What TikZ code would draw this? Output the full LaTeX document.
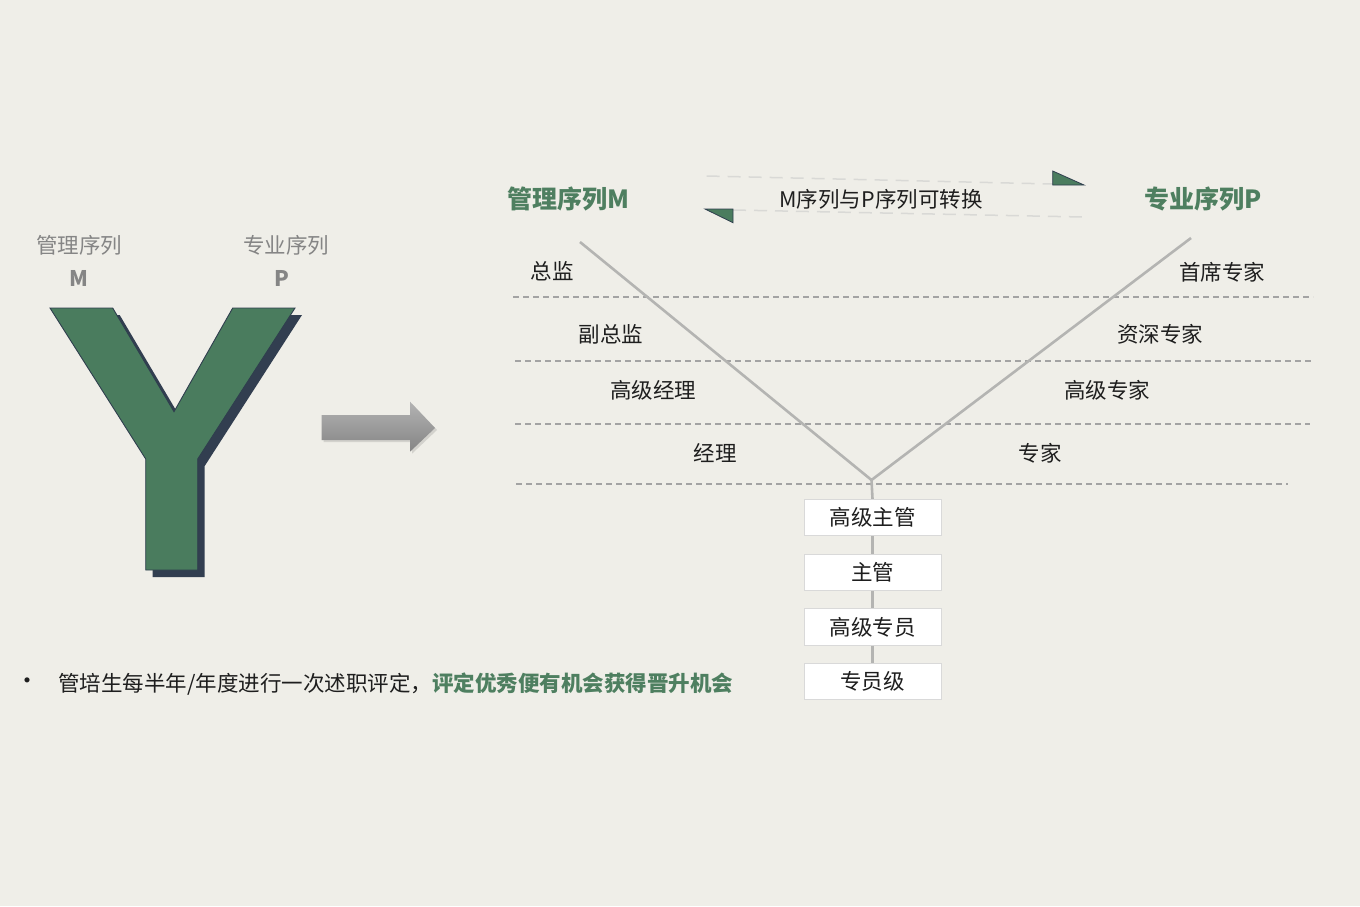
\documentclass[tikz,border=0pt]{standalone}
\usepackage{fontspec}
\newfontfamily\cjk{Noto Sans CJK SC}
\usetikzlibrary{shadows}
\definecolor{bg}{HTML}{EFEEE8}
\definecolor{ygreen}{HTML}{4A7C5E}
\definecolor{tgreen}{HTML}{4E7F60}
\definecolor{yshadow}{HTML}{323E50}
\definecolor{yline}{HTML}{2F3E4E}
\definecolor{lvl}{HTML}{A3A3A3}
\definecolor{conv}{HTML}{D9D9D6}
\definecolor{vline}{HTML}{B4B4B2}
\definecolor{txt}{HTML}{1E1E1E}
\definecolor{greytxt}{HTML}{858585}
\tikzset{
  lab/.style={font=\cjk\fontsize{21.5}{25}\selectfont, text=txt, inner sep=0pt},
  glab/.style={font=\cjk\fontsize{21.5}{25}\selectfont, text=greytxt, inner sep=0pt},
  ttl/.style={font=\cjk\bfseries\fontsize{25}{29}\selectfont, text=tgreen, inner sep=0pt},
  lvldash/.style={draw=lvl, line width=1.2pt, dash pattern=on 6pt off 4pt},
  convdash/.style={draw=conv, line width=1.5pt, dash pattern=on 13pt off 8pt},
  vstroke/.style={draw=vline, line width=2.6pt},
  rankbox/.style={draw=black!15, fill=white, line width=0.8pt, minimum width=137pt, minimum height=36.5pt, inner sep=0pt, font=\cjk\fontsize{21.5}{25}\selectfont, text=txt},
  tri/.style={fill=ygreen, draw=yline, line width=0.8pt}
}
\begin{document}
\begin{tikzpicture}[x=1pt,y=-1pt]
\useasboundingbox (0,0) rectangle (1360,906);
\fill[bg] (0,0) rectangle (1360,906);

% Y shape
\fill[yshadow, shift={(7,7)}] (50,308) -- (112.7,308) -- (174,411.7) -- (232.7,308) -- (295,308) -- (197.7,459) -- (197.7,570) -- (145.7,570) -- (145.7,459) -- cycle;
\filldraw[fill=ygreen, draw=yline, line width=0.9pt] (50,308) -- (112.7,308) -- (174,411.7) -- (232.7,308) -- (295,308) -- (197.7,459) -- (197.7,570) -- (145.7,570) -- (145.7,459) -- cycle;

\node[glab] (ml) at (79,245) {管理序列};
\node[glab, font=\cjk\bfseries\fontsize{21.5}{25}\selectfont] (mm) at (79,278) {M};
\node[glab] (pl) at (286,245) {专业序列};
\node[glab, font=\cjk\bfseries\fontsize{21.5}{25}\selectfont] (pp) at (282,278) {P};

% big arrow
\shade[top color=black!30, bottom color=black!48, drop shadow={shadow xshift=2pt, shadow yshift=-2pt, opacity=0.25}]
  (321.7,415) -- (410,415) -- (410,401.7) -- (435,428) -- (410,451.7) -- (410,440) -- (321.7,440) -- cycle;

% titles
\node[ttl] (tm) at (568,199) {管理序列M};
\node[ttl] (tp) at (1203,199) {专业序列P};

% conversion arrows
\coordinate (c1a) at (706.7,176);
\coordinate (c1b) at (1053,184);
\coordinate (c2a) at (733,210);
\coordinate (c2b) at (1083,217);
\draw[convdash] (c1a) -- (c1b);
\draw[convdash] (c2a) -- (c2b);
\filldraw[tri] (1052.7,171) -- (1052.7,185) -- (1084,185) -- cycle;
\filldraw[tri] (705,209) -- (733,209) -- (733,222.7) -- cycle;
\node[lab] (conv) at (881,199) {M序列与P序列可转换};

% level dashed lines
\coordinate (d1a) at (513,297); \coordinate (d1b) at (1313,297);
\coordinate (d2a) at (515,361); \coordinate (d2b) at (1313,361);
\coordinate (d3a) at (515,424); \coordinate (d3b) at (1310,424);
\coordinate (d4a) at (516,484); \coordinate (d4b) at (1288,484);
\draw[lvldash] (d1a) -- (d1b);
\draw[lvldash] (d2a) -- (d2b);
\draw[lvldash] (d3a) -- (d3b);
\draw[lvldash] (d4a) -- (d4b);

% boxes
\node[rankbox] (b1) at (872.5,517.5) {高级主管};
\node[rankbox] (b2) at (872.5,572.5) {主管};
\node[rankbox] (b3) at (872.5,627) {高级专员};
\node[rankbox] (b4) at (872.5,681.5) {专员级};

% V lines
\coordinate (vl) at (580,242);
\coordinate (vr) at (1191,238);
\coordinate (vb) at (871.5,480);
\draw[vstroke] (vl) -- (vb) -- (vr);
\draw[vstroke] (vb) -- (b1.north);
\draw[vstroke] (b1.south) -- (b2.north);
\draw[vstroke] (b2.south) -- (b3.north);
\draw[vstroke] (b3.south) -- (b4.north);

% level labels
\node[lab] (l1) at (552,271) {总监};
\node[lab] (l2) at (611,334) {副总监};
\node[lab] (l3) at (653,390) {高级经理};
\node[lab] (l4) at (715,453) {经理};
\node[lab] (r1) at (1222,272) {首席专家};
\node[lab] (r2) at (1160,334) {资深专家};
\node[lab] (r3) at (1107,390) {高级专家};
\node[lab] (r4) at (1040,453) {专家};

% bottom note
\node[lab, font=\cjk\fontsize{24}{26}\selectfont] (bul) at (28,684) {•};
\node[lab, anchor=west] (note) at (58,684) {管培生每半年/年度进行一次述职评定，{\bfseries\color{tgreen}评定优秀便有机会获得晋升机会}};
\end{tikzpicture}
\end{document}
